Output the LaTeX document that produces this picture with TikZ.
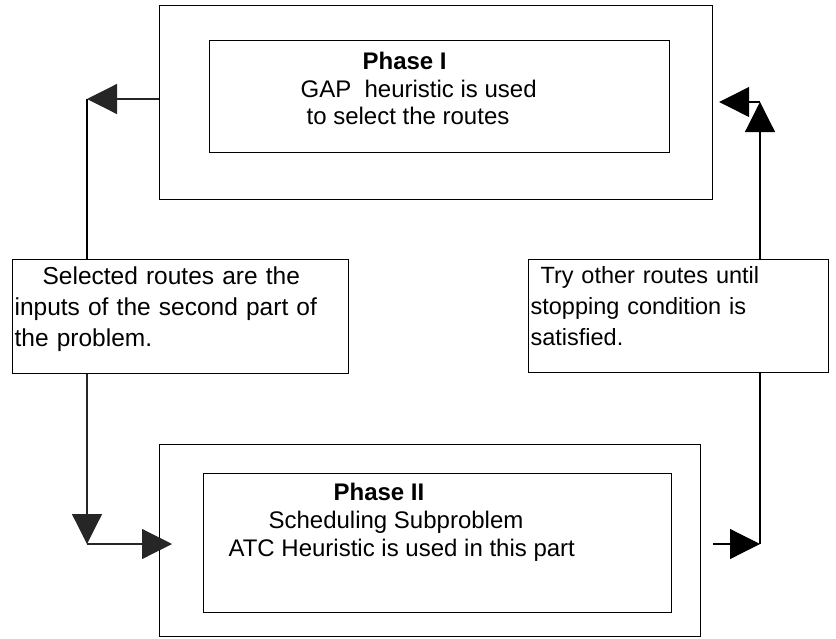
\documentclass[tikz,border=0pt]{standalone}
\usepackage{fontspec}
\setmainfont{Liberation Sans}
\usetikzlibrary{arrows.meta}
\tikzstyle{arrow} = [-{Triangle[length=30pt,width=30pt]}]
\tikzstyle{frame} = [draw, inner sep=0pt, anchor=north west]
\tikzstyle{note} = [draw, anchor=north west, align=left, inner xsep=2pt, inner ysep=7pt, text depth=82pt, font=\fontsize{24.5}{31}\selectfont]
\tikzstyle{phasetext} = [inner sep=0pt, anchor=north west, align=left, font=\fontsize{24}{27.5}\selectfont]

\begin{document}
\begin{tikzpicture}[x=1pt,y=-1pt,line width=1.2pt]
        \useasboundingbox (0,0) rectangle (836,638);
        % phase I
        \node[frame, minimum width=553pt, minimum height=194pt] (p1out) at (159,5) {};
        \node[frame, minimum width=460pt, minimum height=112pt] (p1in) at (209,40) {};
        \node[phasetext] (p1txt) at (300,52) {\hspace*{62pt}\textbf{Phase I}\\GAP\ \ heuristic is used\\\hspace*{6pt}to select the routes};
        % phase II
        \node[frame, minimum width=541pt, minimum height=192pt] (p2out) at (159,444) {};
        \node[frame, minimum width=468pt, minimum height=139pt] (p2in) at (203,473) {};
        \node[phasetext] (p2txt) at (228,483) {\hspace*{105pt}\textbf{Phase II}\\\hspace*{40pt}Scheduling Subproblem\\ATC Heuristic is used in this part};
        % side notes
        \node[note, text width=332pt] (sel) at (12,259) {\hspace*{28pt}Selected routes are the\\inputs of the second part of\\the problem.};
        \node[note, text width=296pt, font=\fontsize{23.5}{31}\selectfont] (try) at (528,259) {\hspace*{10pt}Try other routes until\\stopping condition is\\satisfied.};

        \coordinate (tl) at (87,99);
        \coordinate (bl) at (87,544);
        \coordinate (br) at (760,544);
        \coordinate (tr) at (760,102);

        \draw[arrow, black!85] (p1out.west |- tl) -- (tl);
        \draw (tl) -- (sel.north -| tl);
        \draw[arrow, black!85] (sel.south -| bl) -- (bl);
        \draw[arrow, black!85] (bl) -- ([xshift=13pt]p2out.west |- bl);
        \draw[arrow] ([xshift=12pt]p2out.east |- br) -- (br);
        \draw (br) -- (try.south -| br);
        \draw[arrow] (try.north -| tr) -- (tr);
        \draw[arrow] (tr) -- ([xshift=6pt]p1out.east |- tr);

      \end{tikzpicture}
\end{document}
